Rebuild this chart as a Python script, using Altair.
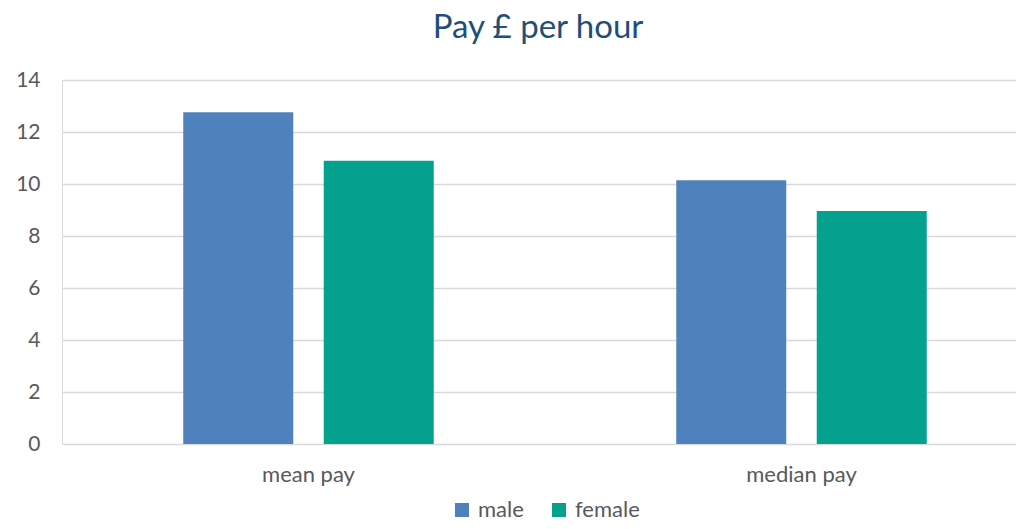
import altair as alt
import pandas as pd

categories = ["mean pay", "mean pay", "median pay", "median pay"]
genders = ["male", "female", "male", "female"]
values = [12.76, 10.89, 10.14, 8.96]

df = pd.DataFrame({"measure": categories, "gender": genders, "pay": values})

FONT = "Lato"

chart = alt.Chart(df).mark_bar().encode(
    x=alt.X("measure:N", sort=["mean pay", "median pay"],
            scale=alt.Scale(paddingInner=0, paddingOuter=0, range=[0, 986]),
            axis=alt.Axis(title=None, labelAngle=0, ticks=False, domain=False,
                          labelFontSize=22, labelColor="#595959", labelFont=FONT,
                          labelPadding=20, grid=False)),
    xOffset=alt.XOffset("gender:N", sort=["male", "female"],
                        scale=alt.Scale(paddingInner=0.217, paddingOuter=0.863)),
    y=alt.Y("pay:Q", scale=alt.Scale(domain=[0, 14]),
            axis=alt.Axis(title=None, values=[0, 2, 4, 6, 8, 10, 12, 14], ticks=False, domain=False,
                          labelFontSize=21, labelColor="#595959", labelFont=FONT,
                          labelPadding=22, gridColor="#D9D9D9", gridWidth=1.5)),
    color=alt.Color("gender:N", sort=["male", "female"],
                    scale=alt.Scale(domain=["male", "female"], range=["#4F81BD", "#04A18F"]),
                    legend=alt.Legend(title=None, orient="none", legendX=389, legendY=419,
                                      direction="horizontal", symbolType="square", symbolSize=196,
                                      symbolStrokeWidth=0, labelFontSize=22, labelFont=FONT,
                                      labelColor="#595959", columnPadding=24, labelOffset=5)),
).properties(
    width=954,
    height=364,
    title=alt.TitleParams("Pay £ per hour", fontSize=33, font=FONT, fontWeight="normal",
                          color="#1F4E79", anchor="middle", dx=-1, offset=24),
).configure_view(stroke=None).configure(
    autosize=alt.AutoSizeParams(type="none"),
    padding={"left": 54, "top": 72, "right": 0, "bottom": 77},
    background="white",
)

chart.save("out.html", embed_options={"renderer": "svg", "actions": False})
